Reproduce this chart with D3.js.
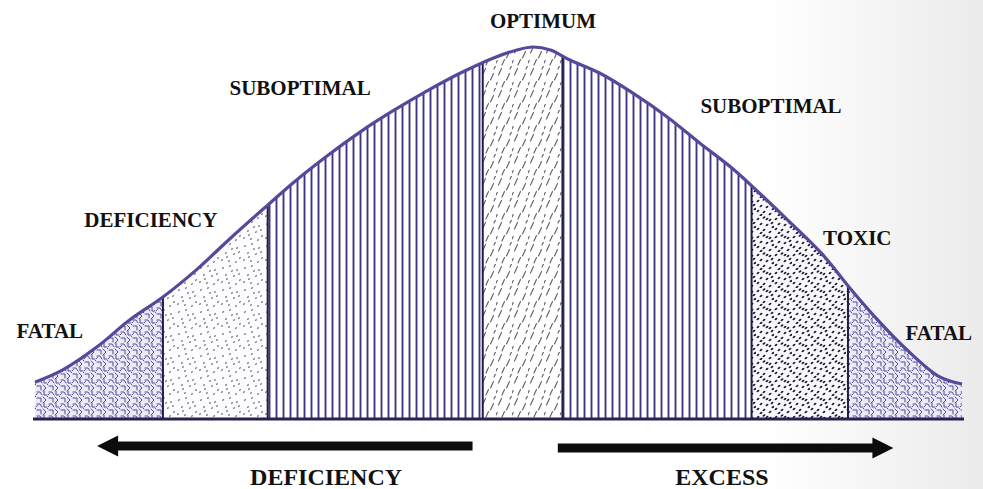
<!DOCTYPE html>
<html>
<head>
<meta charset="utf-8">
<script src="https://cdn.jsdelivr.net/npm/d3@7"></script>
<style>
  html, body { margin: 0; padding: 0; background: #ffffff; }
  svg { display: block; }
  text { font-family: "Liberation Serif", "Times New Roman", serif; font-weight: bold; fill: #111; }
</style>
</head>
<body>
<svg id="chart" width="983" height="489"></svg>
<script>
// ---------------- DATA ----------------
// Response curve: nutrient level (0-100) vs. response (% of optimum)
const curveX = [0, 3.0, 6.7, 10.2, 13.8, 17.5, 21.0, 25.1, 27.8, 31.5, 35.1, 38.6, 42.3, 45.9, 49.4, 52.0, 53.7, 55.6, 57.7, 60.9, 64.5, 68.2, 71.7, 75.3, 77.9, 81.4, 85.0, 87.9, 90.4, 94.1, 97.6, 100];
const curveY = [9.9, 13.2, 19.4, 26.6, 32.8, 40.3, 48.4, 57.5, 63.4, 70.7, 77.2, 82.8, 88.2, 93.0, 97.0, 99.2, 100, 99.2, 96.5, 93.0, 87.6, 81.2, 74.2, 67.2, 61.3, 53.0, 44.1, 35.2, 28.0, 18.5, 11.3, 9.4];

// Zone boundaries along the nutrient axis
const zoneNames  = ["FATAL", "DEFICIENCY", "SUBOPTIMAL", "OPTIMUM", "SUBOPTIMAL", "TOXIC", "FATAL"];
const zoneStarts = [0, 13.8, 25.1, 48.3, 56.9, 77.3, 87.7];
const zoneEnds   = [13.8, 25.1, 48.3, 56.9, 77.3, 87.7, 100];
const zoneFills  = ["fatal", "dotsLight", "stripes", "dashes", "stripes", "dotsDark", "fatal"];

// Zone labels (position in data units)
const labelText = ["FATAL", "DEFICIENCY", "SUBOPTIMAL", "OPTIMUM", "SUBOPTIMAL", "TOXIC", "FATAL"];
const labelX    = [1.6, 12.5, 28.6, 54.8, 79.4, 88.7, 97.5];
const labelY    = [21.8, 51.6, 87.1, 105.1, 82.3, 46.8, 21.2];

// Direction arrows and their captions
const arrowText = ["DEFICIENCY", "EXCESS"];
const arrowFrom = [47.2, 56.4];
const arrowTo   = [6.7, 92.6];
const arrowCaptionX = [31.4, 74.1];

// ---------------- CHART ----------------
const W = 983, H = 489;
const svg = d3.select("#chart");
const x = d3.scaleLinear().domain([0, 100]).range([35, 962]);
const y = d3.scaleLinear().domain([0, 100]).range([419, 47]);

const pts = curveX.map((v, i) => [v, curveY[i]]);
const defs = svg.append("defs");

// background (photo paper, slightly grey to the right)
const bg = defs.append("linearGradient").attr("id", "paper").attr("x1", 0).attr("x2", 1).attr("y1", 0).attr("y2", 0);
bg.append("stop").attr("offset", "0%").attr("stop-color", "#ffffff");
bg.append("stop").attr("offset", "78%").attr("stop-color", "#ffffff");
bg.append("stop").attr("offset", "100%").attr("stop-color", "#ebebeb");
svg.append("rect").attr("width", W).attr("height", H).attr("fill", "url(#paper)");

// --- patterns (textures only) ---
const pStripe = defs.append("pattern").attr("id", "stripes").attr("patternUnits", "userSpaceOnUse")
  .attr("width", 7).attr("height", 20);
pStripe.append("rect").attr("width", 7).attr("height", 20).attr("fill", "#ffffff");
pStripe.append("line").attr("x1", 3.5).attr("x2", 3.5).attr("y1", 0).attr("y2", 20)
  .attr("stroke", "#3d3684").attr("stroke-width", 1.9);

const pDash = defs.append("pattern").attr("id", "dashes").attr("patternUnits", "userSpaceOnUse")
  .attr("width", 16).attr("height", 22);
pDash.append("rect").attr("width", 16).attr("height", 22).attr("fill", "#ffffff");
pDash.append("path")
  .attr("d", "M2.5,9 L5.5,2.5 M10.5,14 L13.5,7.5 M6,21 L8.5,15.5 M14,3 L15.5,0 M0,19 L1.2,16.5")
  .attr("stroke", "#5a5a66").attr("stroke-width", 1.1).attr("stroke-linecap", "round").attr("fill", "none");

const pDotL = defs.append("pattern").attr("id", "dotsLight").attr("patternUnits", "userSpaceOnUse")
  .attr("width", 22).attr("height", 22);
pDotL.append("rect").attr("width", 22).attr("height", 22).attr("fill", "#fdfdff");
[[3,4],[10,2],[17,6],[6,11],[14,12],[20,16],[2,18],[9,19],[16,20],[12,7],[7,15],[19,10]].forEach(d => {
  pDotL.append("ellipse").attr("cx", d[0]).attr("cy", d[1]).attr("rx", 1.1).attr("ry", 0.7)
    .attr("transform", `rotate(-30 ${d[0]} ${d[1]})`).attr("fill", "#505062");
});

const pDotD = defs.append("pattern").attr("id", "dotsDark").attr("patternUnits", "userSpaceOnUse")
  .attr("width", 18).attr("height", 18);
pDotD.append("rect").attr("width", 18).attr("height", 18).attr("fill", "#f8f8fb");
[[2,3],[8,1.5],[14,4],[5,8],[11,9],[17,11],[2,13],[8,14],[14,16],[11,3],[5,17],[16,7]].forEach(d => {
  pDotD.append("ellipse").attr("cx", d[0]).attr("cy", d[1]).attr("rx", 1.6).attr("ry", 1.0)
    .attr("transform", `rotate(-35 ${d[0]} ${d[1]})`).attr("fill", "#1b1938");
});

const pFat = defs.append("pattern").attr("id", "fatal").attr("patternUnits", "userSpaceOnUse")
  .attr("width", 12).attr("height", 12);
pFat.append("rect").attr("width", 12).attr("height", 12).attr("fill", "#eceaf5");
pFat.append("path")
  .attr("d", "M1,2 h4 v4 M7,1 l3,3 l-3,3 M1,8 h3 l2,3 M8,7 v4 h3 M11,0 l1,1 M0,11 l1.5,-1.5")
  .attr("stroke", "#4e4995").attr("stroke-width", 1).attr("fill", "none").attr("stroke-linecap", "round");

// clip path = area under the curve
const curveType = d3.curveCatmullRom.alpha(0.5);
const area = d3.area().x(d => x(d[0])).y0(y(0)).y1(d => y(d[1])).curve(curveType);
defs.append("clipPath").attr("id", "under").append("path").attr("d", area(pts));

const g = svg.append("g").attr("clip-path", "url(#under)");
g.selectAll("rect.zone").data(zoneNames).join("rect").attr("class", "zone")
  .attr("x", (d, i) => x(zoneStarts[i]))
  .attr("width", (d, i) => x(zoneEnds[i]) - x(zoneStarts[i]))
  .attr("y", y(110)).attr("height", y(0) - y(110))
  .attr("fill", (d, i) => `url(#${zoneFills[i]})`);

// zone boundary lines
g.selectAll("line.bound").data(zoneStarts.slice(1)).join("line").attr("class", "bound")
  .attr("x1", d => x(d)).attr("x2", d => x(d))
  .attr("y1", y(0)).attr("y2", y(110))
  .attr("stroke", "#1f1d45").attr("stroke-width", 2);

// curve outline
const line = d3.line().x(d => x(d[0])).y(d => y(d[1])).curve(curveType);
svg.append("path").attr("d", line(pts)).attr("fill", "none")
  .attr("stroke", "#55499c").attr("stroke-width", 3.2).attr("stroke-linejoin", "round");

// baseline
svg.append("line").attr("x1", x(0) - 2).attr("x2", x(100) + 2).attr("y1", y(0)).attr("y2", y(0))
  .attr("stroke", "#262350").attr("stroke-width", 3);

// zone labels
svg.selectAll("text.zl").data(labelText).join("text").attr("class", "zl")
  .attr("x", (d, i) => x(labelX[i])).attr("y", (d, i) => y(labelY[i]))
  .attr("text-anchor", "middle").attr("font-size", 21).text(d => d);

// arrows
const arrowY = [446, 448];
arrowText.forEach((t, i) => {
  const x0 = x(arrowFrom[i]), x1 = x(arrowTo[i]);
  const dir = Math.sign(x1 - x0);
  const headLen = 21, headHalf = 10.5, shaft = 4.5;
  const ay = arrowY[i];
  const xb = x1 - dir * headLen;
  const p = [
    [x0, ay - shaft], [xb, ay - shaft], [xb, ay - headHalf], [x1, ay],
    [xb, ay + headHalf], [xb, ay + shaft], [x0, ay + shaft]
  ];
  svg.append("path").attr("d", "M" + p.map(q => q.join(",")).join("L") + "Z").attr("fill", "#0c0c0c");
  svg.append("text").attr("x", x(arrowCaptionX[i])).attr("y", 485)
    .attr("text-anchor", "middle").attr("font-size", 24).text(t);
});
</script>
</body>
</html>
